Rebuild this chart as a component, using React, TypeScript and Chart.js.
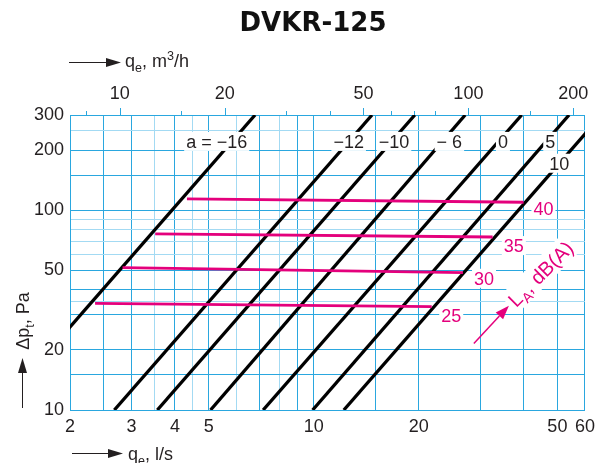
import React, { useEffect, useRef } from 'react';
import { Chart, registerables } from 'chart.js';

Chart.register(...registerables);

// ---------- data ----------
const TITLE = 'DVKR-125';
const M3H_PER_LS = 3.6;

const X_MIN = 2;
const X_MAX = 60;
const Y_MIN = 10;
const Y_MAX = 300;

const xGridValues = [2, 2.5, 3, 3.5, 4, 4.5, 5, 6, 7, 8, 9, 10, 15, 20, 30, 40, 50, 60];
const xLightValues = [3.5, 4.5, 6, 8];
const xLabelValues = [2, 3, 4, 5, 10, 20, 50, 60];

const yGridValues = [10, 15, 20, 30, 35, 40, 50, 60, 70, 80, 90, 100, 150, 200, 250, 300];
const yLightValues = [35, 60, 70, 80, 90, 250];
const yLabelValues = [10, 20, 50, 100, 200, 300];

const topTickValues = [8, 10, 15, 20, 30, 40, 50, 60, 70, 80, 100, 150, 200];
const topLabelValues = [10, 20, 50, 100, 200];

// black characteristic lines (a = correction)
const aLabels = ['a = −16', '−12', '−10', '− 6', '0', '5', '10'];
const aLowQ = [1.24, 2.68, 3.56, 5.06, 7.16, 9.93, 12.2];
const aLowP = [10, 10, 10, 10, 10, 10, 10];
const aHighQ = [6.79, 14.7, 19.5, 27.2, 39.5, 54, 67];
const aHighP = [300, 300, 300, 300, 300, 300, 300];
const aLabelQ = [5.27, 12.6, 17.0, 24.5, 34.9, 47.7, 50.6];
const aLabelP = [220, 220, 220, 220, 220, 220, 171];

// sound level lines L_A
const laLabels = ['25', '30', '35', '40'];
const laStartQ = [2.36, 2.83, 3.51, 4.33];
const laStartP = [34.2, 51.6, 76.2, 114];
const laEndQ = [21.8, 26.8, 32.6, 40];
const laEndP = [32.9, 48.7, 73.5, 109.7];
const laLabelQ = [24.8, 30.8, 37.5, 45.6];
const laLabelP = [29.7, 45.4, 66.2, 101];

// L_A caption and arrow (data coordinates)
const laCaptionQ = 44.7;
const laCaptionP = 48.0;
const laArrowTail = { q: 28.8, p: 21.5 };
const laArrowTip = { q: 36.3, p: 33.3 };

// ---------- styles ----------
const BLUE = '#2aa7df';
const BLUE_LIGHT = '#a3daf3';
const PINK = '#e4007c';
const INK = '#231f20';
const FAMILY = "'Liberation Sans', Arial, sans-serif";

type Seg = { t: string; mode?: 'sub' | 'sup' };

function segFont(size: number, mode?: string) {
  const s = mode ? size * 0.7 : size;
  return `${s}px ${FAMILY}`;
}

function richWidth(ctx: CanvasRenderingContext2D, segs: Seg[], size: number) {
  let w = 0;
  for (const s of segs) {
    ctx.font = segFont(size, s.mode);
    w += ctx.measureText(s.t).width;
  }
  return w;
}

function drawRich(
  ctx: CanvasRenderingContext2D,
  segs: Seg[],
  x: number,
  y: number,
  size: number,
  color: string,
  align: 'left' | 'center'
) {
  let cx = align === 'center' ? x - richWidth(ctx, segs, size) / 2 : x;
  ctx.fillStyle = color;
  ctx.textAlign = 'left';
  ctx.textBaseline = 'alphabetic';
  for (const s of segs) {
    ctx.font = segFont(size, s.mode);
    const dy = s.mode === 'sub' ? size * 0.25 : s.mode === 'sup' ? -size * 0.4 : 0;
    ctx.fillText(s.t, cx, y + dy);
    cx += ctx.measureText(s.t).width;
  }
}

function boxText(ctx: CanvasRenderingContext2D, t: string, x: number, y: number, color: string) {
  ctx.font = `18px ${FAMILY}`;
  const w = ctx.measureText(t).width;
  ctx.fillStyle = '#ffffff';
  ctx.fillRect(x - w / 2 - 2, y - 10, w + 4, 19);
  ctx.fillStyle = color;
  ctx.textAlign = 'center';
  ctx.textBaseline = 'middle';
  ctx.fillText(t, x, y + 1);
}

function arrow(
  ctx: CanvasRenderingContext2D,
  x0: number,
  y0: number,
  x1: number,
  y1: number,
  color: string,
  headLen: number,
  headW: number,
  lw: number
) {
  const ang = Math.atan2(y1 - y0, x1 - x0);
  const bx = x1 - Math.cos(ang) * headLen;
  const by = y1 - Math.sin(ang) * headLen;
  ctx.strokeStyle = color;
  ctx.fillStyle = color;
  ctx.lineWidth = lw;
  ctx.beginPath();
  ctx.moveTo(x0, y0);
  ctx.lineTo(bx, by);
  ctx.stroke();
  const nx = -Math.sin(ang) * headW / 2;
  const ny = Math.cos(ang) * headW / 2;
  ctx.beginPath();
  ctx.moveTo(x1, y1);
  ctx.lineTo(bx + nx, by + ny);
  ctx.lineTo(bx - nx, by - ny);
  ctx.closePath();
  ctx.fill();
}

const overlayPlugin = {
  id: 'overlay',
  afterDatasetsDraw(chart: any) {
    const ctx: CanvasRenderingContext2D = chart.ctx;
    const xs = chart.scales.x;
    const ys = chart.scales.y;
    ctx.save();
    aLabels.forEach((t, i) => {
      boxText(ctx, t, xs.getPixelForValue(aLabelQ[i]), ys.getPixelForValue(aLabelP[i]), INK);
    });
    laLabels.forEach((t, i) => {
      boxText(ctx, t, xs.getPixelForValue(laLabelQ[i]), ys.getPixelForValue(laLabelP[i]), PINK);
    });
    // L_A caption, rotated
    const cx = xs.getPixelForValue(laCaptionQ);
    const cy = ys.getPixelForValue(laCaptionP);
    const segs: Seg[] = [{ t: 'L' }, { t: 'A', mode: 'sub' }, { t: ', dB(A)' }];
    const cs = 20;
    ctx.save();
    ctx.translate(cx, cy);
    ctx.rotate((-45 * Math.PI) / 180);
    const w = richWidth(ctx, segs, cs);
    ctx.fillStyle = '#ffffff';
    ctx.fillRect(-w / 2 - 3, -13, w + 6, 25);
    drawRich(ctx, segs, 0, 7, cs, PINK, 'center');
    ctx.restore();
    arrow(
      ctx,
      xs.getPixelForValue(laArrowTail.q),
      ys.getPixelForValue(laArrowTail.p),
      xs.getPixelForValue(laArrowTip.q),
      ys.getPixelForValue(laArrowTip.p),
      PINK,
      14,
      10,
      1.5
    );
    ctx.restore();
  },
  afterDraw(chart: any) {
    const ctx: CanvasRenderingContext2D = chart.ctx;
    const x2 = chart.scales.x2;
    const top = chart.chartArea.top;
    ctx.save();
    // top tick marks
    ctx.strokeStyle = BLUE;
    ctx.lineWidth = 1;
    topTickValues.forEach((v) => {
      const px = Math.round(x2.getPixelForValue(v)) + 0.5;
      const len = topLabelValues.includes(v) ? 7 : 4;
      ctx.beginPath();
      ctx.moveTo(px, top);
      ctx.lineTo(px, top - len);
      ctx.stroke();
    });
    // title
    ctx.font = `bold 26px 'DejaVu Sans', sans-serif`;
    ctx.fillStyle = '#111111';
    ctx.textAlign = 'center';
    ctx.textBaseline = 'middle';
    ctx.fillText(TITLE, 313, 24);
    // top axis caption
    arrow(ctx, 69, 62.5, 121, 62.5, INK, 15, 9, 1);
    drawRich(ctx, [{ t: 'q' }, { t: 'e', mode: 'sub' }, { t: ', m' }, { t: '3', mode: 'sup' }, { t: '/h' }], 125, 67, 18, INK, 'left');
    // bottom axis caption
    arrow(ctx, 72, 453.5, 123, 453.5, INK, 15, 9, 1);
    drawRich(ctx, [{ t: 'q' }, { t: 'e', mode: 'sub' }, { t: ', l/s' }], 128, 460, 18, INK, 'left');
    // y axis caption
    arrow(ctx, 22.5, 408, 22.5, 358, INK, 15, 9, 1);
    ctx.save();
    ctx.translate(29, 321);
    ctx.rotate(-Math.PI / 2);
    drawRich(ctx, [{ t: 'Δp' }, { t: 't', mode: 'sub' }, { t: ', Pa' }], 0, 0, 18, INK, 'center');
    ctx.restore();
    ctx.restore();
  },
};

export default function App() {
  const ref = useRef<HTMLCanvasElement>(null);
  useEffect(() => {
    document.body.style.margin = '0';
    const tickFont = { family: FAMILY, size: 18 };
    const datasets: any[] = [];
    laLabels.forEach((l, i) => {
      datasets.push({
        label: `LA ${l}`,
        data: [
          { x: laStartQ[i], y: laStartP[i] },
          { x: laEndQ[i], y: laEndP[i] },
        ],
        borderColor: PINK,
        borderWidth: 2.8,
        pointRadius: 0,
        clip: 0,
        xAxisID: 'x',
        yAxisID: 'y',
      });
    });
    aLabels.forEach((l, i) => {
      datasets.push({
        label: l,
        data: [
          { x: aLowQ[i], y: aLowP[i] },
          { x: aHighQ[i], y: aHighP[i] },
        ],
        borderColor: '#000000',
        borderWidth: 3.3,
        pointRadius: 0,
        clip: 0,
        xAxisID: 'x',
        yAxisID: 'y',
      });
    });
    const chart = new Chart(ref.current!, {
      type: 'line',
      data: { datasets },
      options: {
        responsive: false,
        animation: false,
        events: [],
        layout: { padding: { left: 0, right: 12, top: 0, bottom: 0 } },
        plugins: { legend: { display: false }, tooltip: { enabled: false }, title: { display: false } },
        scales: {
          x: {
            type: 'logarithmic',
            position: 'bottom',
            min: X_MIN,
            max: X_MAX,
            afterBuildTicks: (s: any) => {
              s.ticks = xGridValues.map((v) => ({ value: v }));
            },
            afterFit: (s: any) => {
              s.height = 53;
            },
            ticks: {
              autoSkip: false,
              maxRotation: 0,
              minRotation: 0,
              padding: 6,
              color: INK,
              font: tickFont,
              callback: (v: any) => (xLabelValues.includes(Number(v)) ? String(v) : ''),
            },
            grid: {
              drawTicks: false,
              lineWidth: 1,
              color: (c: any) => (c.tick && xLightValues.includes(c.tick.value) ? BLUE_LIGHT : BLUE),
            },
            border: { display: true, color: BLUE, width: 1 },
          },
          x2: {
            type: 'logarithmic',
            position: 'top',
            min: X_MIN * M3H_PER_LS,
            max: X_MAX * M3H_PER_LS,
            afterBuildTicks: (s: any) => {
              s.ticks = topTickValues.map((v) => ({ value: v }));
            },
            afterFit: (s: any) => {
              s.height = 115;
            },
            ticks: {
              autoSkip: false,
              maxRotation: 0,
              minRotation: 0,
              padding: 10,
              color: INK,
              font: tickFont,
              callback: (v: any) => (topLabelValues.includes(Number(v)) ? String(v) : ''),
            },
            grid: { drawOnChartArea: false, drawTicks: false, color: BLUE },
            border: { display: false },
          },
          y: {
            type: 'logarithmic',
            position: 'left',
            min: Y_MIN,
            max: Y_MAX,
            afterBuildTicks: (s: any) => {
              s.ticks = yGridValues.map((v) => ({ value: v }));
            },
            afterFit: (s: any) => {
              s.width = 70;
            },
            ticks: {
              autoSkip: false,
              padding: 6,
              color: INK,
              font: tickFont,
              callback: (v: any) => (yLabelValues.includes(Number(v)) ? String(v) : ''),
            },
            grid: {
              drawTicks: false,
              lineWidth: 1,
              color: (c: any) => (c.tick && yLightValues.includes(c.tick.value) ? BLUE_LIGHT : BLUE),
            },
            border: { display: true, color: BLUE, width: 1 },
          },
        },
      } as any,
      plugins: [overlayPlugin],
    });
    return () => chart.destroy();
  }, []);
  return (
    <div style={{ position: 'absolute', left: 0, top: 0, width: 601, height: 463, background: '#ffffff' }}>
      <canvas ref={ref} width={601} height={463} style={{ display: 'block' }} />
    </div>
  );
}
